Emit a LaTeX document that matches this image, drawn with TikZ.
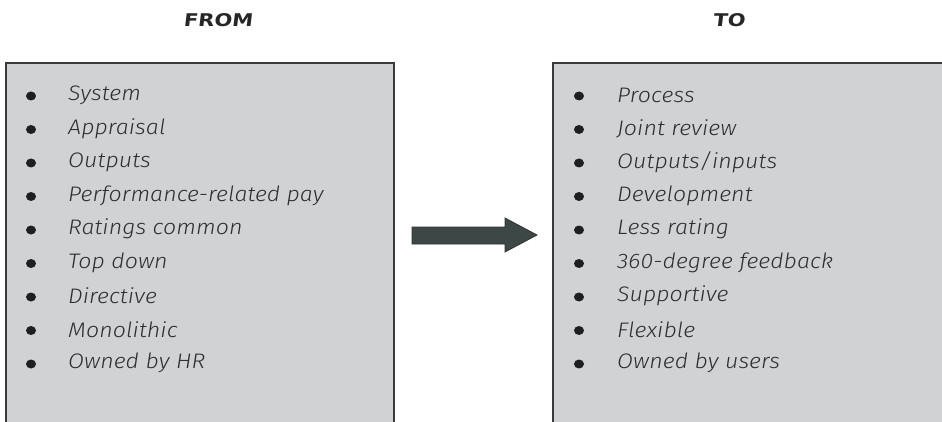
\documentclass[tikz,border=0pt]{standalone}
\usepackage{fontspec}
\setmainfont{Fira Sans Light Italic}[FakeStretch=1.1, LetterSpace=0.5]
\newfontfamily\headfont{DejaVu Sans Bold}[FakeSlant=0.12, FakeStretch=1.2]
\usetikzlibrary{shapes.geometric}
\definecolor{boxfill}{HTML}{D1D2D4}
\definecolor{boxline}{HTML}{3A3A3A}
\definecolor{txt}{HTML}{2E2E2E}
\definecolor{arrowfill}{HTML}{3D4745}
\tikzset{
  item/.style={anchor=west, inner sep=0pt, font=\fontsize{21}{24}\selectfont, text=txt},
  bulletdot/.style={fill=black!88, ellipse, minimum width=10pt, minimum height=9pt, inner sep=0pt},
  head/.style={font=\headfont\fontsize{17.5}{20}\selectfont, text=black!85, inner sep=0pt},
  boxedge/.style={draw=boxline, line width=1.8pt},
}
\begin{document}
\begin{tikzpicture}[x=1pt,y=-1pt]
\useasboundingbox (0,0) rectangle (942,422);
% headers
\node[head] (from) at (218,20) {FROM};
\node[head] (to) at (729,20) {TO};
% boxes
\fill[boxfill] (6,63) rectangle (394,430);
\draw[boxedge] (6,430) -- (6,63) -- (394,63) -- (394,430);
\fill[boxfill] (553,63) rectangle (950,430);
\draw[boxedge] (553,430) -- (553,63) -- (950,63);
% arrow
\draw[fill=arrowfill, draw=black!80, line width=0.8pt]
  (412,227) -- (505,227) -- (505,218) -- (537,235) -- (505,252) -- (505,244) -- (412,244) -- cycle;
% left items
\foreach \t [count=\i] in {System,Appraisal,Outputs,Performance-related pay,Ratings common,Top down,Directive,Monolithic,Owned by HR}{
  \node[bulletdot] (lb\i) at (31,{96+(\i-1)*33.5}) {};
  \node[item] (lt\i) at (68,{95+(\i-1)*33.5}) {\t};
}
% right items
\foreach \t [count=\i] in {Process,Joint review,Outputs/inputs,Development,Less rating,360-degree feedback,Supportive,Flexible,Owned by users}{
  \node[bulletdot] (rb\i) at (579,{96+(\i-1)*33.5}) {};
  \node[item] (rt\i) at (617,{95+(\i-1)*33.5}) {\t};
}
\end{tikzpicture}
\end{document}
